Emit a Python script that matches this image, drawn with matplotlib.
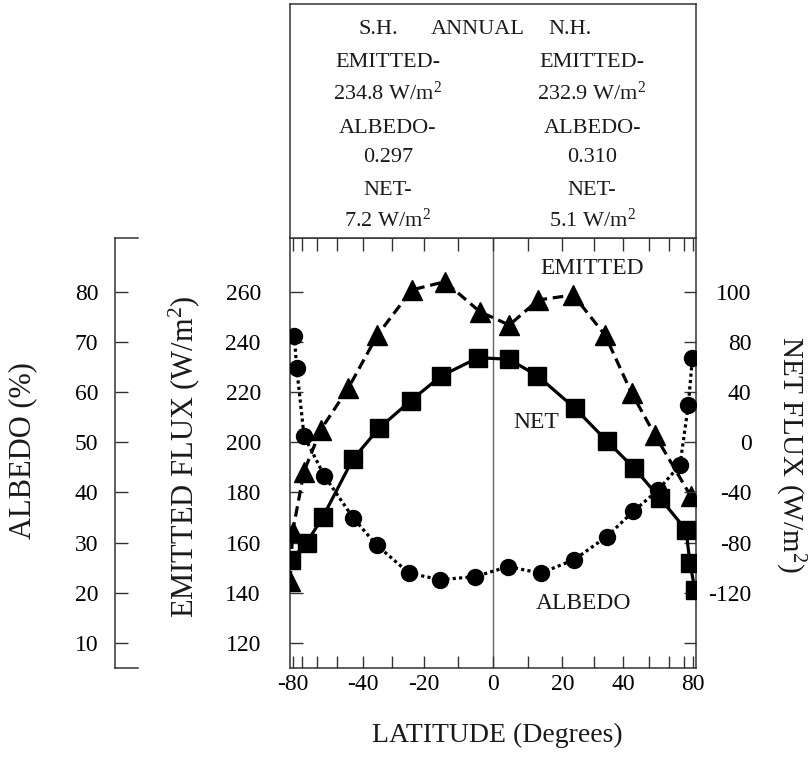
import numpy as np
import matplotlib
matplotlib.use('Agg')
import matplotlib.pyplot as plt

# Times-like serif everywhere, including the W/m^2 superscripts
plt.rcParams['font.family'] = ['Liberation Serif', 'DejaVu Serif']
plt.rcParams['mathtext.fontset'] = 'custom'
plt.rcParams['mathtext.rm'] = 'Liberation Serif'
plt.rcParams['mathtext.it'] = 'Liberation Serif:italic'
plt.rcParams['text.color'] = '#1a1a1a'

# Zonal annual means
emit_lat = [-88, -80.7, -68.6, -58.1, -45.5, -34.7, -23.6, -13.7, -3.7,
            4.6, 12.9, 23.3, 33.5, 43.1, 52.9, 76.8]
emit_flux = [144.5, 164.4, 188.3, 204.9, 221.5, 242.7, 260.7, 264.0, 252.0,
             246.7, 256.7, 258.7, 242.7, 219.5, 202.9, 178.6]

net_lat = [-84.3, -66.6, -57.0, -43.7, -34.2, -23.9, -14.8, -4.2,
           4.5, 12.6, 23.8, 34.1, 44.1, 55.4, 72.0, 76.0, 84.3]
net_flux = [-93.8, -80.0, -59.8, -13.6, 11.1, 33.1, 52.8, 67.4,
            66.1, 53.1, 27.1, 1.0, -20.8, -44.7, -69.9, -96.5, -117.8]

alb_lat = [-78.2, -75.2, -68.6, -56.2, -43.5, -35.0, -24.4, -15.1, -5.1,
           4.3, 13.6, 23.6, 34.1, 43.7, 54.5, 67.1, 74.2, 79.1]
albedo = [71.2, 64.7, 51.3, 43.3, 34.9, 29.5, 23.9, 22.6, 23.2,
          25.2, 23.9, 26.6, 31.2, 36.2, 40.5, 45.5, 57.4, 66.7]

# Axis ticks
lat_ticks = [-80, -40, -20, 0, 20, 40, 80]
lat_minor = list(range(-80, 81, 10))
emit_ticks = [120, 140, 160, 180, 200, 220, 240, 260]
net_ticks = [120, 80, 40, 0, -40, -80, -120, -160]
net_tick_labels = ['100', '80', '40', '0', '-40', '-80', '-120', '']
alb_ticks = [10, 20, 30, 40, 50, 60, 70, 80]

# Hemispheric summary
sh_summary = ['EMITTED-', '234.8 W/m$^2$', 'ALBEDO-', '0.297', 'NET-', '7.2 W/m$^2$']
nh_summary = ['EMITTED-', '232.9 W/m$^2$', 'ALBEDO-', '0.310', 'NET-', '5.1 W/m$^2$']


def sin_lat(x):
    return np.sin(np.deg2rad(x))


def asin_lat(y):
    return np.rad2deg(np.arcsin(np.clip(y, -1, 1)))


fig = plt.figure(figsize=(8.1, 7.62), dpi=100)
ax = fig.add_axes([290/810, 94/762, 406/810, 430/762])
ax.set_xscale('function', functions=(sin_lat, asin_lat))
ax.set_xlim(-90, 90)
ax.set_ylim(110, 281.4)

ax_net = ax.twinx()
ax_net.set_ylim(-180, 162.8)
ax_alb = ax.twinx()
ax_alb.set_ylim(5, 90.7)

spine_col = '#333333'
for s in ax.spines.values():
    s.set_color(spine_col)
    s.set_linewidth(1.1)
for s in ax_net.spines.values():
    s.set_visible(False)
ax_alb.axis('off')

ax.axvline(0, color='#666666', lw=1.0, zorder=0)

# Curves
ax.plot(emit_lat, emit_flux, color='black', lw=2.3, dashes=(3.3, 1.8),
        marker='^', ms=15, zorder=3)
ax_net.plot(net_lat, net_flux, color='black', lw=2.3,
            marker='s', ms=12.5, zorder=3)
ax_alb.plot(alb_lat, albedo, color='black', lw=2.3, dashes=(1, 1),
            marker='o', ms=11.5, zorder=3)

# Latitude axis
ax.set_xticks(lat_ticks, [str(t) for t in lat_ticks])
ax.set_xticks(lat_minor, minor=True)
ax.tick_params(axis='x', which='both', direction='in', top=True, length=9,
               width=1, color=spine_col, labelsize=17, pad=4)

# Emitted flux axis
ax.set_yticks(emit_ticks)
ax.tick_params(axis='y', direction='in', length=9, width=1, color=spine_col,
               labelsize=17, pad=21)

# Net flux axis
ax_net.set_yticks(net_ticks, net_tick_labels, ha='right')
ax_net.tick_params(axis='y', direction='in', length=9, width=1, color=spine_col,
                   labelsize=17, pad=40)

# Albedo scale drawn as a bracket to the far left
ax_b = fig.add_axes([115/810, 94/762, 23/810, 430/762])
ax_b.set_ylim(5, 90.7)
ax_b.set_xticks([])
ax_b.patch.set_visible(False)
ax_b.spines['right'].set_visible(False)
for s in ['left', 'top', 'bottom']:
    ax_b.spines[s].set_color(spine_col)
    ax_b.spines[s].set_linewidth(1.1)
ax_b.set_yticks(alb_ticks)
ax_b.tick_params(axis='y', direction='in', length=9.5, width=1, color=spine_col,
                 labelsize=17, pad=12)

# Curve names
ax.text(0.744, 0.930, 'EMITTED', transform=ax.transAxes, ha='center', va='center', fontsize=17)
ax.text(0.606, 0.572, 'NET', transform=ax.transAxes, ha='center', va='center', fontsize=17)
ax.text(0.724, 0.151, 'ALBEDO', transform=ax.transAxes, ha='center', va='center', fontsize=17)

# Axis titles
fig.text(0.028, 0.409, 'ALBEDO (%)', rotation=90, ha='center', va='center', fontsize=22)
fig.text(0.227, 0.400, 'EMITTED FLUX (W/m$^2$)', rotation=90, ha='center', va='center', fontsize=22)
fig.text(0.976, 0.404, 'NET FLUX (W/m$^2$)', rotation=-90, ha='center', va='center', fontsize=21)
fig.text(0.614, 0.035, 'LATITUDE (Degrees)', ha='center', va='center', fontsize=20)

# Summary box above the plot
ax_box = fig.add_axes([290/810, 524/762, 406/810, 234/762])
ax_box.set_xticks([])
ax_box.set_yticks([])
for s in ax_box.spines.values():
    s.set_color(spine_col)
    s.set_linewidth(1.1)
ax_box.text(0.217, 0.893, 'S.H.', ha='center', va='center', fontsize=16)
ax_box.text(0.463, 0.893, 'ANNUAL', ha='center', va='center', fontsize=16)
ax_box.text(0.690, 0.893, 'N.H.', ha='center', va='center', fontsize=16)
row_y = [0.752, 0.620, 0.470, 0.346, 0.201, 0.077]
for y, sh, nh in zip(row_y, sh_summary, nh_summary):
    ax_box.text(0.241, y, sh, ha='center', va='center', fontsize=16)
    ax_box.text(0.744, y, nh, ha='center', va='center', fontsize=16)

fig.savefig('out.png', dpi=100)
